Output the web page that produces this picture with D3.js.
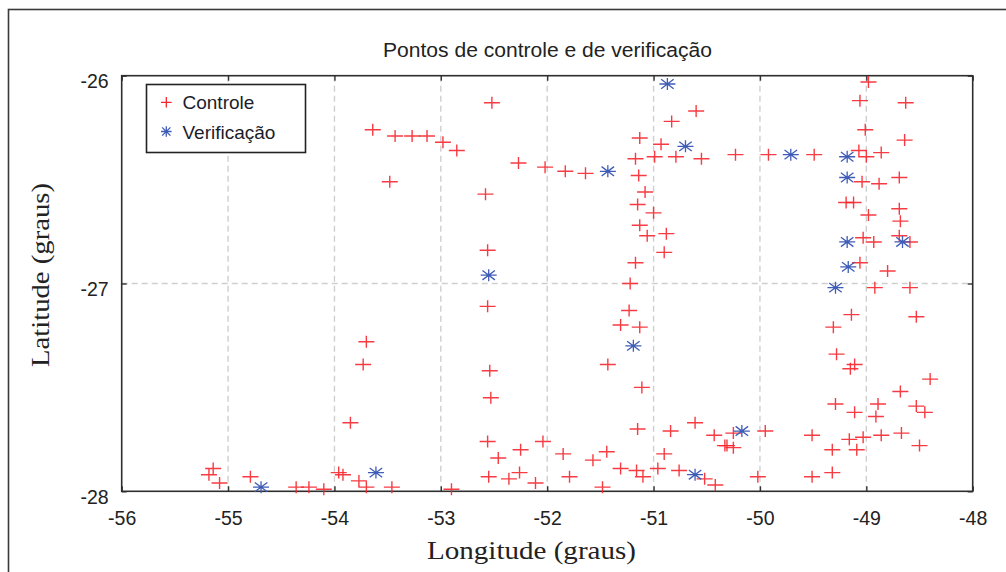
<!DOCTYPE html>
<html>
<head>
<meta charset="utf-8">
<script src="https://cdn.jsdelivr.net/npm/d3@7"></script>
<style>
  html, body { margin: 0; padding: 0; background: #fff; }
  svg { display: block; }
</style>
</head>
<body>
<svg id="chart" width="1006" height="572"></svg>
<script>
// ---- data ----
const titleText = "Pontos de controle e de verificação";
const xLabel = "Longitude (graus)";
const yLabel = "Latitude (graus)";
const seriesNames = ["Controle", "Verificação"];
const xTicks = [-56, -55, -54, -53, -52, -51, -50, -49, -48];
const yTicks = [-26, -27, -28];
const xGrid = [-55, -54, -53, -52, -51, -50, -49];
const yGrid = [-27];

const controleLon = [
  -53.64, -53.43, -53.27, -53.13, -52.98, -52.85, -53.48, -52.52, -52.27, -52.02,
  -51.83, -51.64, -52.58, -52.56, -50.60, -50.83, -51.13, -50.93, -51.17, -50.99,
  -50.79, -50.55, -51.14, -51.08, -51.15, -51.00, -51.13, -51.06, -50.88, -50.90,
  -51.17, -50.23, -49.92, -49.49, -48.98, -49.06, -48.63, -49.01, -48.64, -49.07,
  -49.00, -48.86, -49.04, -48.88, -48.69, -49.19, -49.12, -48.98, -48.69, -48.68,
  -49.03, -48.93, -48.69, -48.59, -49.06, -48.80, -48.92, -48.59, -53.70, -53.73,
  -53.85, -55.14, -55.18, -55.08, -54.79, -54.36, -54.24, -54.10, -53.96, -53.92,
  -53.77, -53.70, -53.46, -52.90, -51.22, -52.56, -51.23, -51.31, -51.13, -52.54,
  -51.43, -52.53, -51.11, -52.56, -51.15, -50.84, -50.61, -50.43, -50.33, -52.46,
  -52.25, -52.04, -51.85, -51.57, -51.44, -50.90, -52.55, -52.36, -52.26, -52.11,
  -51.79, -51.48, -51.31, -51.16, -51.10, -50.96, -50.76, -50.52, -50.42, -49.14,
  -48.53, -49.31, -49.28, -49.11, -49.15, -48.40, -48.68, -49.29, -48.89, -48.53,
  -48.45, -49.11, -48.91, -50.25, -50.31, -50.25, -49.95, -49.51, -49.16, -49.03,
  -48.86, -48.67, -49.32, -49.09, -48.50, -50.02, -49.51, -49.32
];
const controleLat = [
  -26.26, -26.29, -26.29, -26.29, -26.32, -26.36, -26.51, -26.13, -26.42, -26.44,
  -26.46, -26.47, -26.57, -26.84, -26.17, -26.22, -26.30, -26.33, -26.40, -26.39,
  -26.39, -26.40, -26.48, -26.56, -26.62, -26.66, -26.72, -26.77, -26.76, -26.85,
  -26.90, -26.38, -26.38, -26.38, -26.03, -26.12, -26.13, -26.26, -26.31, -26.36,
  -26.39, -26.37, -26.51, -26.52, -26.49, -26.61, -26.61, -26.67, -26.64, -26.70,
  -26.78, -26.80, -26.77, -26.80, -26.90, -26.94, -27.02, -27.02, -27.28, -27.39,
  -27.67, -27.89, -27.92, -27.96, -27.93, -27.98, -27.98, -27.99, -27.91, -27.92,
  -27.95, -27.98, -27.98, -27.99, -27.00, -27.11, -27.13, -27.20, -27.21, -27.42,
  -27.39, -27.55, -27.50, -27.76, -27.70, -27.71, -27.67, -27.73, -27.78, -27.84,
  -27.80, -27.76, -27.82, -27.85, -27.81, -27.82, -27.93, -27.94, -27.91, -27.96,
  -27.93, -27.98, -27.89, -27.90, -27.93, -27.89, -27.90, -27.94, -27.97, -27.15,
  -27.16, -27.21, -27.34, -27.39, -27.41, -27.46, -27.52, -27.58, -27.58, -27.59,
  -27.62, -27.62, -27.64, -27.72, -27.78, -27.79, -27.71, -27.73, -27.75, -27.74,
  -27.73, -27.72, -27.80, -27.80, -27.78, -27.93, -27.93, -27.91
];
const verifLon = [
  -51.43, -52.55, -50.87, -50.70, -49.71, -49.18, -49.18, -49.18,
  -48.66, -49.17, -49.29, -54.69, -53.61, -51.19, -50.17, -50.61
];
const verifLat = [
  -26.46, -26.96, -26.04, -26.34, -26.38, -26.39, -26.49, -26.80,
  -26.80, -26.92, -27.02, -27.98, -27.91, -27.30, -27.71, -27.92
];

// ---- drawing ----
const svg = d3.select("#chart");
const W = 1006, H = 572;
const plot = { left: 121.7, right: 972.7, top: 75.7, bottom: 491.3 };

const x = d3.scaleLinear().domain([-56, -48]).range([plot.left, plot.right]);
const y = d3.scaleLinear().domain([-28, -26]).range([plot.bottom, plot.top]);

const red = "#f5262e";
const blue = "#3f5cb6";

// outer figure frame (right/bottom edges fall outside the window)
svg.append("rect")
  .attr("x", 8.5).attr("y", 9.5)
  .attr("width", W + 20).attr("height", H + 20)
  .attr("fill", "none").attr("stroke", "#3a3a3a").attr("stroke-width", 1.6);

// grid
const grid = svg.append("g");
grid.selectAll("line.vx").data(xGrid).join("line")
  .attr("x1", d => x(d)).attr("x2", d => x(d))
  .attr("y1", plot.top).attr("y2", plot.bottom)
  .attr("stroke", "#cfcfcf").attr("stroke-width", 1.4)
  .attr("stroke-dasharray", "6,4");
grid.selectAll("line.hy").data(yGrid).join("line")
  .attr("x1", plot.left).attr("x2", plot.right)
  .attr("y1", d => y(d)).attr("y2", d => y(d))
  .attr("stroke", "#cfcfcf").attr("stroke-width", 1.4)
  .attr("stroke-dasharray", "6,4");

// axes
const tickFont = "'Liberation Sans', Arial, sans-serif";
function styleAxis(g, hideLabels) {
  g.select(".domain").remove();
  g.selectAll(".tick line").attr("stroke", "#333").attr("stroke-width", 1.4);
  g.selectAll(".tick text")
    .attr("fill", "#222")
    .style("font-family", tickFont)
    .style("font-size", "19.5px");
  if (hideLabels) g.selectAll(".tick text").remove();
}
const fmt = d => String(d);

const gxB = svg.append("g").attr("transform", `translate(0,${plot.bottom})`)
  .call(d3.axisBottom(x).tickValues(xTicks).tickFormat(fmt).tickSizeInner(-5).tickSizeOuter(0).tickPadding(34));
styleAxis(gxB, false);
gxB.selectAll(".tick text").attr("dy", "0");

const gxT = svg.append("g").attr("transform", `translate(0,${plot.top})`)
  .call(d3.axisTop(x).tickValues(xTicks).tickSizeInner(-5).tickSizeOuter(0));
styleAxis(gxT, true);

const gyL = svg.append("g").attr("transform", `translate(${plot.left},0)`)
  .call(d3.axisLeft(y).tickValues(yTicks).tickFormat(fmt).tickSizeInner(-5).tickSizeOuter(0).tickPadding(13));
styleAxis(gyL, false);
gyL.selectAll(".tick text").attr("dy", "12px");

const gyR = svg.append("g").attr("transform", `translate(${plot.right},0)`)
  .call(d3.axisRight(y).tickValues(yTicks).tickSizeInner(-5).tickSizeOuter(0));
styleAxis(gyR, true);

// plot frame
svg.append("rect")
  .attr("x", plot.left).attr("y", plot.top)
  .attr("width", plot.right - plot.left).attr("height", plot.bottom - plot.top)
  .attr("fill", "none").attr("stroke", "#2e2e2e").attr("stroke-width", 1.6);

// markers
function plusPath(hx, hy) {
  return `M${-hx},0H${hx}M0,${-hy}V${hy}`;
}
function starPath(hx, hy) {
  const dx = hx * 0.78, dy = hy * 0.78;
  return `M${-hx},0H${hx}M0,${-hy}V${hy}M${-dx},${-dy}L${dx},${dy}M${-dx},${dy}L${dx},${-dy}`;
}

const controle = controleLon.map((d, i) => ({ lon: d, lat: controleLat[i] }));
const verif = verifLon.map((d, i) => ({ lon: d, lat: verifLat[i] }));

svg.append("g").selectAll("path").data(controle).join("path")
  .attr("transform", d => `translate(${x(d.lon)},${y(d.lat)})`)
  .attr("d", plusPath(8, 6))
  .attr("fill", "none").attr("stroke", red).attr("stroke-width", 1.4)
  .attr("stroke-opacity", 0.9);

svg.append("g").selectAll("path").data(verif).join("path")
  .attr("transform", d => `translate(${x(d.lon)},${y(d.lat)})`)
  .attr("d", starPath(8, 6))
  .attr("fill", "none").attr("stroke", blue).attr("stroke-width", 1.3);

// legend
const leg = svg.append("g");
leg.append("rect")
  .attr("x", 146.5).attr("y", 84.5).attr("width", 159).attr("height", 68)
  .attr("fill", "#fff").attr("stroke", "#222").attr("stroke-width", 1.6);
const legItems = [
  { name: seriesNames[0], path: plusPath(5.3, 5.3), color: red, yy: 102.3 },
  { name: seriesNames[1], path: starPath(5.3, 5.3), color: blue, yy: 131.5 }
];
legItems.forEach(it => {
  leg.append("path").attr("transform", `translate(166.3,${it.yy})`)
    .attr("d", it.path).attr("fill", "none").attr("stroke", it.color).attr("stroke-width", 1.3);
  leg.append("text").attr("x", 182.5).attr("y", it.yy + 7)
    .attr("fill", "#1c1c2a")
    .style("font-family", tickFont).style("font-size", "19px")
    .text(it.name);
});

// title
svg.append("text")
  .attr("x", 547.5).attr("y", 56.5).attr("text-anchor", "middle")
  .attr("fill", "#222")
  .attr("textLength", 329).attr("lengthAdjust", "spacingAndGlyphs")
  .style("font-family", tickFont).style("font-size", "19.5px")
  .text(titleText);

// axis titles
const serif = "'Liberation Serif', 'Times New Roman', serif";
svg.append("text")
  .attr("x", 531.5).attr("y", 559).attr("text-anchor", "middle")
  .attr("fill", "#222")
  .attr("textLength", 209).attr("lengthAdjust", "spacingAndGlyphs")
  .style("font-family", serif).style("font-size", "26px")
  .text(xLabel);

svg.append("text")
  .attr("transform", "translate(48.5,275) rotate(-90)")
  .attr("text-anchor", "middle")
  .attr("fill", "#222")
  .attr("textLength", 184).attr("lengthAdjust", "spacingAndGlyphs")
  .style("font-family", serif).style("font-size", "26px")
  .text(yLabel);
</script>
</body>
</html>
